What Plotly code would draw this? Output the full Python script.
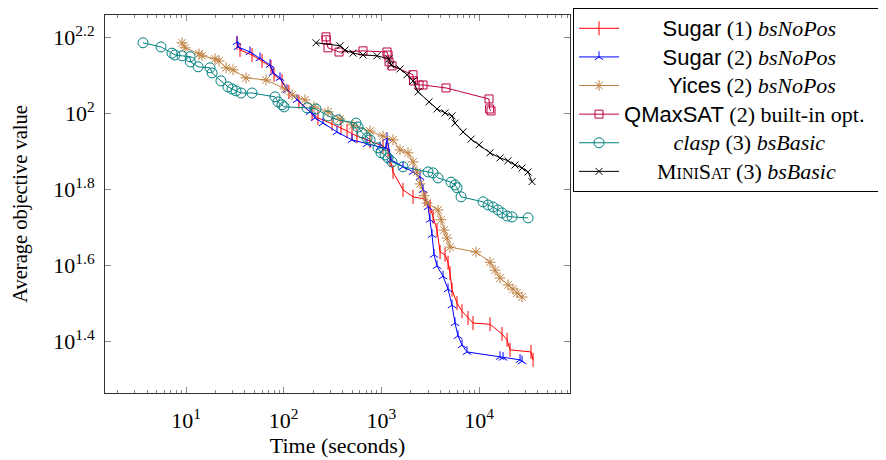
import plotly.graph_objects as go

# ---------------- data (time in seconds, average objective value) ----------------
sugar1_t = [33.3, 35.7, 47.4, 60.0, 74.1, 79.6, 96.1, 113, 143, 195, 224, 312, 386, 445, 500, 562,
            764, 1038, 1169, 1225, 1315, 1663, 2105, 2793, 3143, 3375, 3707, 3981, 4477, 4807,
            5037, 5282, 5940, 6680, 7695, 8662, 12940, 17150, 19310, 20700, 33960, 35650]
sugar1_v = [153.1, 146.6, 142.2, 137.2, 132.4, 126.2, 121.6, 113.8, 107.1, 99.6, 97.2, 93.8, 91.5,
            89.8, 88.3, 87.1, 84.5, 82.0, 80.1, 75.4, 70.1, 62.9, 60.3, 59.5, 56.7, 53.5, 49.3,
            43.2, 42.5, 40.5, 38.0, 34.4, 31.7, 30.2, 29.0, 28.1, 27.9, 26.3, 25.4, 23.9, 23.6, 22.5]

sugar2_t = [33.3, 34.1, 45.2, 57.2, 72.4, 77.7, 91.6, 108, 137, 186, 209, 253, 351, 500, 713, 968,
            1114, 1141, 1254, 1663, 2105, 2484, 2667, 3000, 3143, 3296, 3453, 3707, 4270, 4807,
            5282, 5665, 6080, 6680, 7516, 16370, 17570, 26230, 27490]
sugar2_v = [153.9, 149.3, 144.8, 139.6, 134.0, 127.6, 123.8, 115.1, 108.4, 100.8, 97.2, 94.2, 89.3,
            85.1, 83.0, 81.5, 81.1, 86.1, 75.4, 72.3, 70.1, 68.0, 62.9, 56.7, 52.5, 47.9, 42.5,
            39.7, 37.3, 34.5, 31.3, 28.1, 26.0, 24.6, 23.6, 22.9, 22.8, 22.5, 22.3]

yices_t = [9.10, 9.77, 13.6, 14.6, 19.8, 21.8, 25.7, 30.3, 41.1, 65.9, 103, 122, 165, 204, 284,
           377, 512, 764, 1038, 1315, 1549, 1871, 2105, 2314, 2484, 2729, 2929, 3795, 4074, 4373,
           4693, 5037, 9295, 12940, 14550, 16370, 19760, 22230, 24430, 27490]
yices_v = [153.1, 148.5, 143.2, 141.5, 139.0, 137.2, 131.6, 130.0, 123.8, 122.3, 115.8, 111.7,
           108.4, 103.9, 100.8, 96.6, 93.1, 89.8, 87.1, 85.1, 80.1, 78.7, 74.5, 70.1, 65.2, 60.7,
           58.1, 55.7, 52.5, 49.3, 47.0, 44.5, 43.2, 40.6, 38.7, 36.9, 35.4, 34.5, 33.7, 32.9]

qmax_t = [271, 272, 284, 368, 648, 1141, 1169, 1196, 1283, 2105, 2130, 2427, 2667, 4585, 12620,
          12800, 13240]
qmax_v = [158.7, 155.9, 148.5, 144.8, 145.8, 144.8, 142.2, 136.4, 133.1, 126.2, 121.6, 118.6,
          118.6, 116.5, 109.0, 102.6, 101.4]

clasp_t = [3.63, 5.55, 7.19, 7.71, 9.10, 11.0, 11.1, 13.3, 17.6, 18.5, 22.8, 26.9, 29.6, 32.5,
           36.6, 47.4, 81.5, 87.5, 96.1, 101, 173, 214, 284, 360, 550, 576, 633, 713, 764, 923,
           991, 1089, 1169, 1283, 1663, 3000, 3375, 3795, 5155, 5665, 5940, 6530, 10960, 12340,
           13870, 15600, 17150, 19310, 21720, 31690]
clasp_v = [153.1, 149.3, 143.8, 142.2, 141.5, 140.7, 136.4, 132.4, 131.6, 127.6, 121.6, 117.3,
           115.8, 114.5, 113.0, 113.0, 110.4, 107.1, 105.2, 103.9, 103.3, 102.6, 98.4, 96.0, 94.2,
           92.0, 88.8, 86.1, 85.1, 81.1, 78.7, 77.7, 76.3, 74.5, 72.3, 70.1, 69.7, 67.6, 65.9,
           64.8, 63.7, 60.3, 58.5, 57.4, 56.7, 55.7, 54.7, 53.7, 53.4, 53.1]

minisat_t = [214, 377, 424, 512, 648, 902, 1196, 1254, 1549, 1828, 2105, 2370, 3070, 3707, 4477,
             5282, 5665, 6840, 8260, 9980, 12940, 16370, 19760, 23290, 27490, 31690, 34830]
minisat_v = [153.1, 150.4, 146.6, 143.8, 142.2, 141.5, 139.0, 134.0, 130.7, 126.2, 121.6, 113.8,
             107.1, 102.6, 100.2, 98.4, 94.2, 89.3, 85.5, 82.6, 78.7, 76.3, 75.0, 73.1, 71.8,
             70.1, 66.1]

x_tick_vals = [10, 100, 1000, 10000]
x_tick_text = ["10<sup>1</sup>", "10<sup>2</sup>", "10<sup>3</sup>", "10<sup>4</sup>"]
y_tick_exp = [1.4, 1.6, 1.8, 2.0, 2.2]
y_tick_text = ["10<sup>1.4</sup>", "10<sup>1.6</sup>", "10<sup>1.8</sup>", "10<sup>2</sup>", "10<sup>2.2</sup>"]

SERIF = "Liberation Serif"
SANS = "font-family:Liberation Sans"
NB = "\u00a0"


def big(s):
    return f"<span style='font-size:22px'>{s}</span>"


names = [
    big(NB * 7 + f"<span style='{SANS}'>Sugar</span> (1) <i>bsNoPos</i>"),
    big(NB * 7 + f"<span style='{SANS}'>Sugar</span> (2) <i>bsNoPos</i>"),
    big(NB * 8 + f"<span style='{SANS}'>Yices</span> (2) <i>bsNoPos</i>"),
    big(f"<span style='{SANS}'>QMaxSAT</span> (2) built-in opt." + NB * 8),
    big(NB * 9 + "<i>clasp</i> (3) <i>bsBasic</i>"),
    big(NB * 6 + "M<span style='font-size:16px'>INI</span>S<span style='font-size:16px'>AT</span> (3) <i>bsBasic</i>"),
]

series = [
    (sugar1_t, sugar1_v, "#ff0000", "line-ns", 10),
    (sugar2_t, sugar2_v, "#0000ff", "y-up", 7),
    (yices_t, yices_v, "#bf8040", "asterisk", 9),
    (qmax_t, qmax_v, "#bf0040", "square-open", 8),
    (clasp_t, clasp_v, "#008080", "circle-open", 10),
    (minisat_t, minisat_v, "#000000", "x-thin", 7),
]

fig = go.Figure()
for (t, v, col, sym, sz), nm in zip(series, names):
    fig.add_trace(go.Scatter(
        x=t, y=v, mode="lines+markers", name=nm,
        line=dict(color=col, width=1),
        marker=dict(symbol=sym, size=sz, color=col, line=dict(color=col, width=1)),
    ))

minor_x = [k * 10 ** d for d in range(0, 5) for k in range(2, 10)]

FRAME = "#333333"
TICK = "#888888"
fig.update_layout(
    width=886, height=460,
    margin=dict(l=97, r=324, t=7, b=75, autoexpand=False),
    paper_bgcolor="white", plot_bgcolor="white",
    font=dict(family=SERIF, size=20, color="black"),
    showlegend=True,
    legend=dict(
        x=1.0065, y=1.0185, xanchor="left", yanchor="top",
        bgcolor="white", bordercolor="black", borderwidth=1,
        font=dict(family=SERIF, size=19.7, color="black"),
        itemwidth=40, tracegroupgap=0,
    ),
    xaxis=dict(
        type="log", range=[0.171, 4.930], automargin=False,
        tickvals=x_tick_vals, ticktext=x_tick_text,
        ticks="inside", ticklen=6, tickcolor=TICK, tickwidth=1,
        minor=dict(tickvals=minor_x, ticks="inside", ticklen=3, tickcolor=TICK, tickwidth=1),
        showline=True, linecolor=FRAME, linewidth=1, mirror="ticks",
        showgrid=False, zeroline=False,
        ticklabelstandoff=8,
        title=dict(text="Time (seconds)", standoff=0, font=dict(family=SERIF, size=22, color="black")),
        tickfont=dict(family=SERIF, size=22, color="black"),
    ),
    yaxis=dict(
        type="log", range=[1.265, 2.258], automargin=False,
        tickvals=[10 ** e for e in y_tick_exp], ticktext=y_tick_text,
        ticks="inside", ticklen=6, tickcolor=TICK, tickwidth=1,
        showline=True, linecolor=FRAME, linewidth=1, mirror="ticks",
        showgrid=False, zeroline=False,
        ticklabelstandoff=5,
        title=dict(text="Average objective value", standoff=20, font=dict(family=SERIF, size=20.5, color="black")),
        tickfont=dict(family=SERIF, size=22, color="black"),
    ),
)

fig.write_html("out.html")
